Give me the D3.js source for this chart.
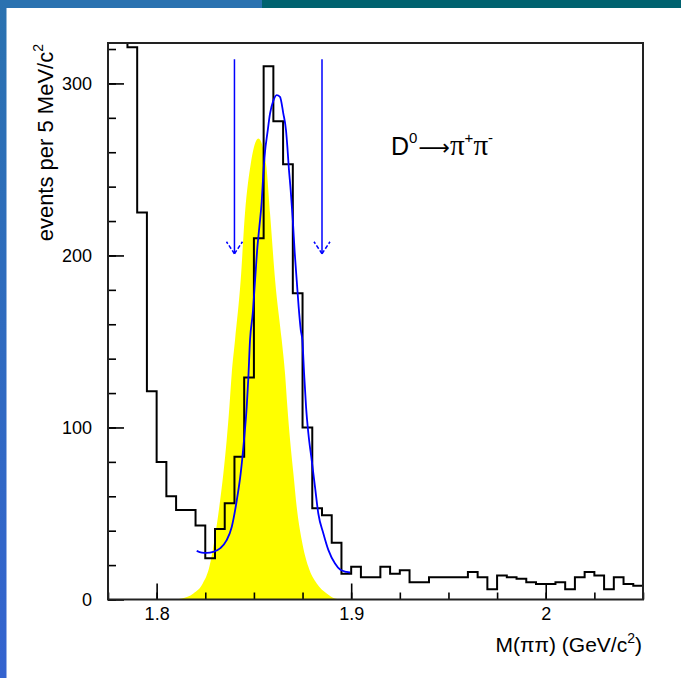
<!DOCTYPE html>
<html><head><meta charset="utf-8">
<script src="https://cdn.jsdelivr.net/npm/d3@7"></script>
<style>
html,body{margin:0;padding:0;background:#fff;}
svg{display:block;font-family:"Liberation Sans",Arial,sans-serif;}
</style>
</head><body>
<svg id="c" width="681" height="678"></svg>
<script>
// ---- data ----
const binStart = 1.775, binWidth = 0.005;
const counts = [340, 340, 321, 225, 121, 80, 60, 52, 52, 43,
                24, 41, 56, 83, 129, 210, 310, 278, 253, 178,
                100, 53, 49, 33, 15, 19, 13, 13, 19, 15,
                17, 10, 10, 13, 13, 13, 13, 16, 13, 6,
                14, 13, 12, 10, 9, 9, 10, 6, 13, 16,
                14, 6, 13, 9, 8];
const fitMass = [1.8206,1.8232,1.8257,1.8291,1.8326,1.8360,1.8386,1.8412,1.8432,1.8449,1.8463,1.8471,1.8480,1.8494,1.8506,1.8518,1.8528,1.8540,1.8548,1.8557,1.8569,1.8583,1.8600,1.8617,1.8634,1.8651,1.8665,1.8672,1.8679,1.8689,1.8700,1.8710,1.8720,1.8730,1.8741,1.8749,1.8758,1.8768,1.8780,1.8797,1.8814,1.8831,1.8857,1.8883,1.8917,1.8943,1.8977,1.8994];
const fitValue = [28.3,27.3,27.1,27.7,29.7,34.5,42.2,57.7,73.3,92.6,112,128,150.8,166.3,185.6,205,216.6,231.2,246.7,260.2,270.9,282.6,290,293.2,292.2,282.6,272.8,263.1,251.5,238,220.5,201.2,185.6,170.1,156.6,150.8,131.4,112,96.5,81,65.5,50,38.4,28.7,20.9,17.4,16,15.7];
const mcMass = [1.8100,1.8129,1.8189,1.8237,1.8271,1.8297,1.8322,1.8343,1.8360,1.8374,1.8386,1.8403,1.8432,1.8454,1.8484,1.8523,1.8562,1.8583,1.8609,1.8643,1.8660,1.8672,1.8686,1.8703,1.8720,1.8746,1.8780,1.8823,1.8874,1.8917,1.8950];
const mcValue = [0,0.6,3.5,9.3,19,34.5,53.8,73.3,92.6,112,131.4,150.8,185.6,224.4,253.5,268,253.5,224.4,185.6,150.8,131.4,112,92.6,73.3,53.8,34.5,19,9.3,3.5,0.6,0];
const arrowMass = [1.84, 1.885];
const arrowFrom = 314, arrowTo = 201;
const xMajor = [1.8, 1.9, 2.0];
const xLabels = ["1.8", "1.9", "2"];
const yMajor = [0, 100, 200, 300];
const yLabels = ["0", "100", "200", "300"];
const xRange = [1.775, 2.05];
const yRange = [0, 323.5];

// ---- layout ----
const svg = d3.select("#c");
const L = 108, R = 643, T = 43, B = 599.5;

// page decoration
const defs = svg.append("defs");
const g1 = defs.append("linearGradient").attr("id","side").attr("x1",0).attr("y1",0).attr("x2",0).attr("y2",1);
g1.append("stop").attr("offset","0%").attr("stop-color","#2a72b0");
g1.append("stop").attr("offset","100%").attr("stop-color","#3463cf");
svg.append("rect").attr("x",0).attr("y",0).attr("width",262).attr("height",8).attr("fill","#2a72b0");
svg.append("rect").attr("x",262).attr("y",0).attr("width",419).attr("height",8).attr("fill","#00626f");
svg.append("rect").attr("x",0).attr("y",0).attr("width",6.5).attr("height",678).attr("fill","url(#side)");

defs.append("clipPath").attr("id","plot").append("rect").attr("x",L).attr("y",T).attr("width",R-L).attr("height",B-T);

const x = d3.scaleLinear().domain(xRange).range([L, R]);
const y = d3.scaleLinear().domain(yRange).range([B, T]).clamp(true);

const plot = svg.append("g").attr("clip-path","url(#plot)");

// yellow MC signal shape
plot.append("path")
  .datum(mcMass.map((m,i)=>[m, mcValue[i]]))
  .attr("fill","#ffff00")
  .attr("d", d3.area().x(d=>x(d[0])).y0(y(0)).y1(d=>y(d[1])).curve(d3.curveMonotoneX));

// black data histogram
const steps = counts.map((c,i)=>[binStart + i*binWidth, c]);
steps.push([binStart + counts.length*binWidth, counts[counts.length-1]]);
plot.append("path")
  .datum(steps)
  .attr("fill","none").attr("stroke","#000").attr("stroke-width",2)
  .attr("d", d3.line().x(d=>x(d[0])).y(d=>y(d[1])).curve(d3.curveStepAfter));

// blue fit
plot.append("path")
  .datum(fitMass.map((m,i)=>[m, fitValue[i]]))
  .attr("fill","none").attr("stroke","#0000ff").attr("stroke-width",1.8)
  .attr("d", d3.line().x(d=>x(d[0])).y(d=>y(d[1])).curve(d3.curveMonotoneX));

// arrows
arrowMass.forEach(m=>{
  const ax = x(m), y0 = y(arrowFrom), y1 = y(arrowTo);
  plot.append("line").attr("x1",ax).attr("x2",ax).attr("y1",y0).attr("y2",y1)
    .attr("stroke","#0000ff").attr("stroke-width",1.5);
  [-8, 8].forEach(dx=>{
    plot.append("line").attr("x1",ax).attr("y1",y1).attr("x2",ax+dx).attr("y2",y1-12)
      .attr("stroke","#0000ff").attr("stroke-width",1.5).attr("stroke-dasharray","4,2");
  });
});

// axes (ticks point inward, ROOT style)
const xMinor = d3.range(0, 12).map(i=>xRange[0] + i*0.025).filter(v=>v<=xRange[1]+1e-9);
const yMinor = d3.range(0, 17).map(i=>i*20);

const xa = svg.append("g").attr("transform",`translate(0,${B})`);
xa.call(d3.axisBottom(x).tickValues(xMinor).tickSize(-7).tickFormat(""));
xa.append("g").call(d3.axisBottom(x).tickValues(xMajor).tickSize(-16).tickPadding(8)
   .tickFormat((d,i)=>xLabels[i]));
xa.selectAll(".domain").remove();
xa.selectAll("line").attr("stroke","#000").attr("stroke-width",1.6);
xa.selectAll("text").attr("font-size",18).attr("fill","#000").attr("font-family","Liberation Sans, Arial, sans-serif");

const ya = svg.append("g").attr("transform",`translate(${L},0)`);
ya.call(d3.axisLeft(y).tickValues(yMinor).tickSize(-8).tickFormat(""));
ya.append("g").call(d3.axisLeft(y).tickValues(yMajor).tickSize(-16).tickPadding(16)
   .tickFormat((d,i)=>yLabels[i]));
ya.selectAll(".domain").remove();
ya.selectAll("line").attr("stroke","#000").attr("stroke-width",1.6);
ya.selectAll("text").attr("font-size",18).attr("fill","#000").attr("font-family","Liberation Sans, Arial, sans-serif");

// frame
svg.append("rect").attr("x",L).attr("y",T).attr("width",R-L).attr("height",B-T)
  .attr("fill","none").attr("stroke","#222").attr("stroke-width",2);

// titles
const yt = svg.append("text").attr("transform",`translate(53,${T+1}) rotate(-90)`)
  .attr("text-anchor","end").attr("font-size",22).attr("fill","#000");
yt.append("tspan").text("events per 5 MeV/c");
yt.append("tspan").attr("dy",-10).attr("font-size",14).text("2");

const xt = svg.append("text").attr("x",642).attr("y",652).attr("text-anchor","end")
  .attr("font-size",21).attr("fill","#000");
xt.append("tspan").text("M(ππ) (GeV/c");
xt.append("tspan").attr("dy",-9).attr("font-size",14).text("2");
xt.append("tspan").attr("dy",9).text(")");

const lab = svg.append("text").attr("x",391).attr("y",155).attr("font-size",25).attr("fill","#000");
lab.append("tspan").text("D");
lab.append("tspan").attr("dy",-12).attr("font-size",15).text("0");
lab.append("tspan").attr("dy",12).attr("dx",1).attr("font-family","DejaVu Sans, sans-serif").attr("font-size",22).text("⟶");
lab.append("tspan").attr("font-family","Liberation Serif, serif").attr("font-size",29).text("π");
lab.append("tspan").attr("dy",-12).attr("font-size",15).text("+");
lab.append("tspan").attr("dy",12).attr("font-family","Liberation Serif, serif").attr("font-size",29).text("π");
lab.append("tspan").attr("dy",-12).attr("font-size",15).text("-");
</script>
</body></html>
